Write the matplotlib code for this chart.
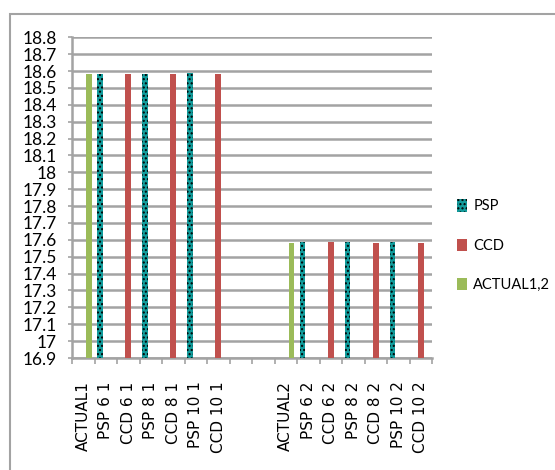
import numpy as np
import matplotlib
matplotlib.use("Agg")
import matplotlib.pyplot as plt
from matplotlib.patches import Rectangle, Patch

# categories (two blank slots between the groups)
categories = ["ACTUAL1", "PSP 6 1", "CCD 6 1", "PSP 8 1", "CCD 8 1", "PSP 10 1", "CCD 10 1",
              "", "",
              "ACTUAL2", "PSP 6 2", "CCD 6 2", "PSP 8 2", "CCD 8 2", "PSP 10 2", "CCD 10 2"]
nan = np.nan
psp_vals = [nan, 18.585, nan, 18.585, nan, 18.587, nan, nan, nan,
            nan, 17.589, nan, 17.589, nan, 17.589, nan]
ccd_vals = [nan, nan, 18.58, nan, 18.58, nan, 18.58, nan, nan,
            nan, nan, 17.589, nan, 17.583, nan, 17.583]
actual_vals = [18.58, nan, nan, nan, nan, nan, nan, nan, nan,
               17.583, nan, nan, nan, nan, nan, nan]
yticks = np.round(np.arange(16.9, 18.81, 0.1), 1)

teal = "#129c9c"
red = "#c0504d"
green = "#9bbb59"
grid_c = "#a3a3a3"
narrow = ["Lato", "DejaVu Sans"]

W, H = 555, 470
fig = plt.figure(figsize=(W / 100, H / 100), dpi=100)
ax = fig.add_axes([72 / W, 112 / H, 360 / W, 320.7 / H])

x = np.arange(len(categories))
bw = 0.245
base = 16.9

def bars(vals, off, **kw):
    v = np.array(vals, dtype=float)
    m = ~np.isnan(v)
    return ax.bar(x[m] + off, v[m] - base, bw, bottom=base, zorder=3, **kw)

bars(psp_vals, -bw, color=teal, edgecolor="black", hatch="....", linewidth=0)
bars(ccd_vals, 0, color=red, linewidth=0)
bars(actual_vals, bw, color=green, linewidth=0)

ax.set_xlim(-0.5, len(categories) - 0.5)
ax.set_ylim(16.9, 18.8)
ax.set_yticks(yticks)
ax.set_yticklabels([f"{t:g}" for t in yticks], fontfamily=narrow, fontsize=12.5)
ax.yaxis.grid(True, color=grid_c, linewidth=1.8, zorder=0)
ax.set_axisbelow(True)

ax.set_xticks(x)
ax.set_xticklabels(categories, rotation=90, fontsize=11, va="top")
ax.set_xticks(np.arange(-0.5, len(categories)), minor=True)
ax.tick_params(axis="x", which="major", length=0, pad=17)
ax.tick_params(axis="x", which="minor", length=4, width=1.2, color=grid_c)
ax.tick_params(axis="y", length=3, width=1.2, color=grid_c, pad=8)

for s in ["top", "right"]:
    ax.spines[s].set_visible(False)
for s in ["left", "bottom"]:
    ax.spines[s].set_color(grid_c)
    ax.spines[s].set_linewidth(1.8)

handles = [Patch(facecolor=teal, edgecolor="black", hatch="....", linewidth=0, label="PSP"),
           Patch(facecolor=red, linewidth=0, label="CCD"),
           Patch(facecolor=green, linewidth=0, label="ACTUAL1,2")]
fig.legend(handles=handles, loc="upper left", bbox_to_anchor=(444 / W, 1 - 186 / H),
           frameon=False, handlelength=0.65, handleheight=0.95, handletextpad=0.45,
           labelspacing=1.72, prop={"family": narrow, "size": 10.5})

# outer chart frame
fig.patches.append(Rectangle((10 / W, -0.1), 1.2, 1 - 14 / H + 0.1, transform=fig.transFigure,
                             fill=False, edgecolor=grid_c, linewidth=1.5))

fig.savefig("out.png", dpi=100)
